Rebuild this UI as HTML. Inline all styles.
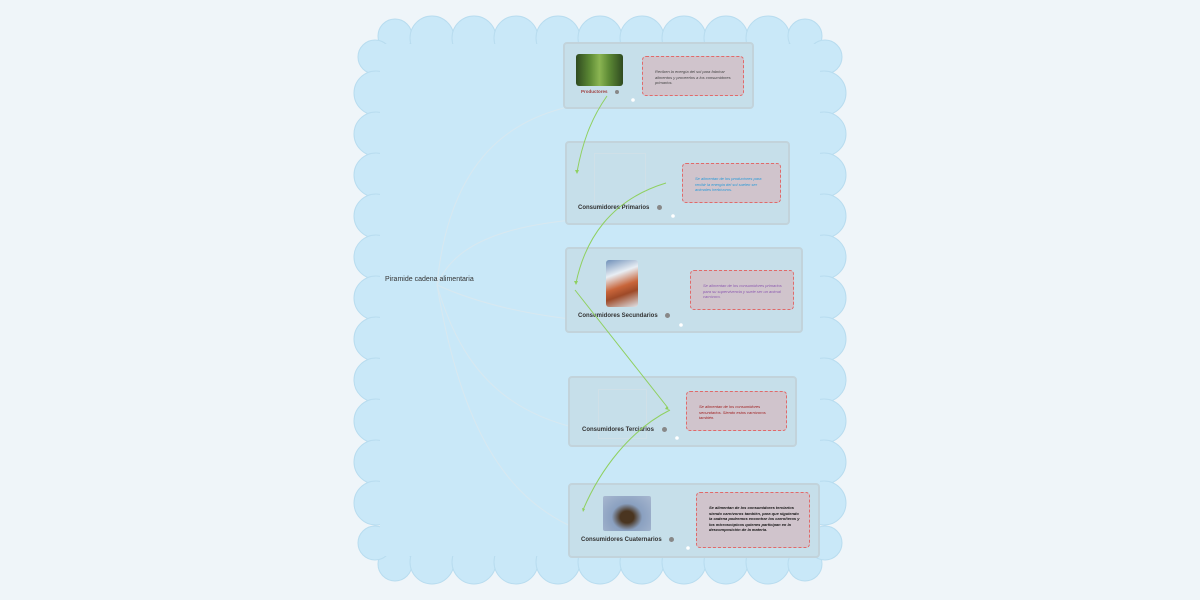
<!DOCTYPE html>
<html><head><meta charset="utf-8"><style>
body{margin:0;width:1200px;height:600px;background:#eff5f9;position:relative;overflow:hidden;font-family:"Liberation Sans",sans-serif}
.a{position:absolute}
.box{position:absolute;background:#c6dfea;border:2px solid #c2d3db;border-radius:4px;box-sizing:border-box}
.note{position:absolute;background:#d0c4cc;border:1.5px dashed #e06a6a;border-radius:4px;box-sizing:border-box;font-size:4px;font-style:italic;line-height:5.5px;padding:12px 8px 0 12px}
.lbl{position:absolute;font-size:6px;font-weight:bold;color:#333}
.ph{position:absolute;border:1px solid #cfe0e8}
.ic{display:inline-block;width:5px;height:5px;border-radius:50%;background:#888;margin-left:6px;vertical-align:middle}
</style></head><body>
<svg class="a" style="left:0;top:0" width="1200" height="600">
<g fill="#c9e8f8" stroke="#b8dcef" stroke-width="1">
<g id="t">
<circle cx="395" cy="36" r="17"/><circle cx="432" cy="38" r="22"/><circle cx="474" cy="38" r="22"/><circle cx="516" cy="38" r="22"/><circle cx="558" cy="38" r="22"/><circle cx="600" cy="38" r="22"/><circle cx="642" cy="38" r="22"/><circle cx="684" cy="38" r="22"/><circle cx="726" cy="38" r="22"/><circle cx="768" cy="38" r="22"/><circle cx="805" cy="36" r="17"/>
</g>
<use href="#t" transform="translate(0,600) scale(1,-1)"/>
<circle cx="375" cy="57" r="17"/><circle cx="825" cy="57" r="17"/>
<circle cx="375" cy="543" r="17"/><circle cx="825" cy="543" r="17"/>
<g id="l">
<circle cx="376" cy="93" r="22"/><circle cx="376" cy="134" r="22"/><circle cx="376" cy="175" r="22"/><circle cx="376" cy="216" r="22"/><circle cx="376" cy="257" r="22"/><circle cx="376" cy="298" r="22"/><circle cx="376" cy="339" r="22"/><circle cx="376" cy="380" r="22"/><circle cx="376" cy="421" r="22"/><circle cx="376" cy="462" r="22"/><circle cx="376" cy="503" r="22"/>
</g>
<use href="#l" transform="translate(1200,0) scale(-1,1)"/>
</g>
<rect x="380" y="44" width="440" height="512" fill="#c9e8f8"/>
<g fill="none" stroke="#d8e8f0" stroke-width="1">
<path d="M437 285 C450 150 520 100 633 100"/>
<path d="M437 285 C460 230 540 216 673 216"/>
<path d="M437 285 C470 300 540 325 681 325"/>
<path d="M437 285 C470 400 540 438 677 438"/>
<path d="M437 285 C470 480 540 548 688 548"/>
</g>
</svg>
<div class="a" style="left:385px;top:276px;font-size:7px;color:#333">Piramide cadena alimentaria</div>

<div class="box" style="left:563px;top:42px;width:191px;height:67px"></div>
<div class="a" style="left:576px;top:54px;width:47px;height:32px;border-radius:3px;background:linear-gradient(90deg,#2f4a20,#5d8a35 30%,#8bb552 50%,#5d8a35 70%,#2f4a20);"></div>
<div class="lbl" style="left:581px;top:89px;font-size:4.5px;color:#a04040">Productores <span class="ic" style="width:4px;height:4px"></span></div>
<div class="note" style="left:642px;top:56px;width:102px;height:40px;color:#444;padding-left:12px">Reciben la energía del sol para fabricar alimentos y proveerlos a los consumidores primarios.</div>

<div class="box" style="left:565px;top:141px;width:225px;height:84px"></div>
<div class="ph" style="left:594px;top:153px;width:50px;height:49px"></div>
<div class="lbl" style="left:578px;top:205px">Consumidores Primarios <span class="ic"></span></div>
<div class="note" style="left:682px;top:163px;width:99px;height:40px;color:#2a9ad8">Se alimentan de los productores para recibir la energía del sol suelen ser animales herbívoros.</div>

<div class="box" style="left:565px;top:247px;width:238px;height:86px"></div>
<div class="a" style="left:606px;top:260px;width:32px;height:47px;border-radius:3px;background:linear-gradient(160deg,#6e8fb8,#e8eef4 30%,#c8653a 55%,#9e4a28 70%,#e0e4ea)"></div>
<div class="lbl" style="left:578px;top:313px">Consumidores Secundarios <span class="ic"></span></div>
<div class="note" style="left:690px;top:270px;width:104px;height:40px;color:#8c5ab0">Se alimentan de los consumidores primarios para su supervivencia y suele ser un animal carnívoro.</div>

<div class="box" style="left:568px;top:376px;width:229px;height:71px"></div>
<div class="ph" style="left:598px;top:389px;width:47px;height:48px"></div>
<div class="lbl" style="left:582px;top:427px">Consumidores Terciarios <span class="ic"></span></div>
<div class="note" style="left:686px;top:391px;width:101px;height:40px;color:#a02020">Se alimentan de los consumidores secundarios.  Siendo estos carnívoros también.</div>

<div class="box" style="left:568px;top:483px;width:252px;height:75px"></div>
<div class="a" style="left:603px;top:496px;width:48px;height:35px;border-radius:2px;background:radial-gradient(ellipse at 50% 60%,#4a3520 20%,#8aa0c0 45%,#a8b8d0)"></div>
<div class="lbl" style="left:581px;top:537px">Consumidores  Cuaternarios <span class="ic"></span></div>
<div class="note" style="left:696px;top:492px;width:114px;height:56px;color:#111;font-weight:bold;padding-top:12px">Se alimentan de los consumidores terciarios siendo carnívoros también, para que siguiendo la cadena podremos encontrar los carroñeros y los microscópicos quienes participan en la descomposición de la materia.</div>

<svg class="a" style="left:0;top:0" width="1200" height="600">
<g fill="none" stroke="#8fd060" stroke-width="1">
<path d="M607 96 C590 120 582 145 577 172"/>
<path d="M666 183 C610 200 585 240 576 283"/>
<path d="M575 290 L668 408"/>
<path d="M670 410 C630 430 600 470 583 510"/>
</g>
<g fill="#8fd060">
<path d="M577 174 l-2 -4 l4 0z"/><path d="M576 285 l-2 -4 l4 0z"/><path d="M669 410 l-4 -1 l2 -3z"/><path d="M583 512 l-1 -4 l3 1z"/>
</g>
<g fill="#fff"><circle cx="633" cy="100" r="1.8"/><circle cx="673" cy="216" r="1.8"/><circle cx="681" cy="325" r="1.8"/><circle cx="677" cy="438" r="1.8"/><circle cx="688" cy="548" r="1.8"/></g>
</svg>
</body></html>
